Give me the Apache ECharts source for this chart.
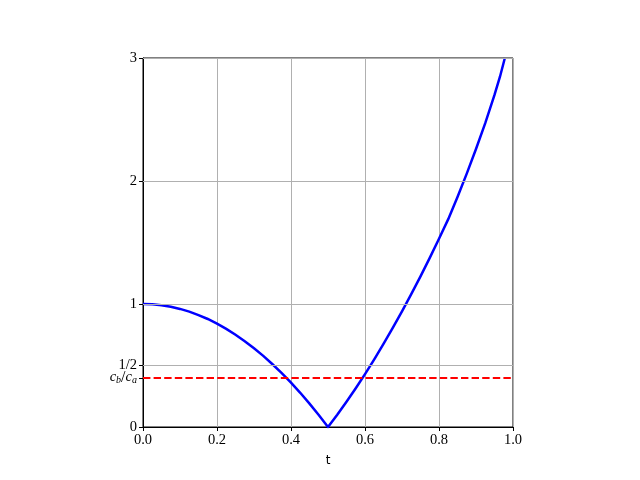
<!DOCTYPE html>
<html>
<head>
<meta charset="utf-8">
<script src="https://cdn.jsdelivr.net/npm/echarts@6/dist/echarts.min.js"></script>
<style>
  html, body { margin: 0; padding: 0; background: #fff; }
  #main { width: 640px; height: 480px; }
</style>
</head>
<body>
<div id="main"></div>
<script>
// t values and the curve
var tValues = [0, 0.025, 0.05, 0.075, 0.1, 0.125, 0.15, 0.175, 0.2, 0.225, 0.25,
               0.275, 0.3, 0.325, 0.35, 0.375, 0.4, 0.425, 0.45, 0.475, 0.5,
               0.525, 0.55, 0.575, 0.6, 0.625, 0.65, 0.675, 0.7, 0.725, 0.75,
               0.775, 0.8, 0.825, 0.85, 0.875, 0.9, 0.925, 0.95, 0.965, 0.978];
var curveValues = [1, 0.997, 0.99, 0.978, 0.96, 0.938, 0.91, 0.878, 0.84, 0.798, 0.75,
                   0.698, 0.64, 0.578, 0.51, 0.438, 0.36, 0.278, 0.19, 0.098, 0,
                   0.1, 0.205, 0.315, 0.43, 0.55, 0.675, 0.805, 0.94, 1.08, 1.225,
                   1.375, 1.53, 1.69, 1.87, 2.06, 2.26, 2.47, 2.70, 2.85, 3.0];
// ratio c_b/c_a (red dashed line)
var ratioValue = 0.4;
// y ticks
var yTickValues = [0, 0.4, 0.5, 1, 2, 3];
var yGridValues = [0.5, 1, 2, 3];

var serif = 'Liberation Serif';

var chart = echarts.init(document.getElementById('main'));

var curveData = tValues.map(function (t, i) { return [t, curveValues[i]]; });

var option = {
    animation: false,
    grid: {
        left: 143, right: 127, top: 58, bottom: 53,
        show: true, borderColor: '#000', borderWidth: 1, backgroundColor: 'transparent'
    },
    xAxis: {
        type: 'value', min: 0, max: 1, interval: 0.2,
        name: 't', nameLocation: 'middle', nameGap: 28,
        nameTextStyle: { fontFamily: 'DejaVu Sans', fontSize: 12, color: '#000' },
        axisLine: { show: true, onZero: false, lineStyle: { color: '#000', width: 1 } },
        axisTick: { show: true, inside: false, length: 4, lineStyle: { color: '#000' } },
        axisLabel: {
            fontFamily: serif, fontSize: 14.5, color: '#000', margin: 6,
            formatter: function (v) { return v.toFixed(1); }
        },
        splitLine: { show: true, lineStyle: { color: '#b0b0b0', width: 1 } }
    },
    yAxis: {
        type: 'value', min: 0, max: 3, interval: 0.5,
        axisLine: { show: true, onZero: false, lineStyle: { color: '#000', width: 1 } },
        axisTick: { show: true, length: 4, customValues: yTickValues, lineStyle: { color: '#000' } },
        axisLabel: {
            customValues: yTickValues,
            fontFamily: serif, fontSize: 14.5, color: '#000', margin: 6,
            formatter: function (v) {
                if (Math.abs(v - ratioValue) < 1e-6) return '{i|c}{s|b}{n|/}{i|c}{s|a}';
                if (v === 0.5) return '1/2';
                return String(v);
            },
            rich: {
                i: { fontFamily: serif, fontStyle: 'italic', fontSize: 14.5, color: '#000', verticalAlign: 'top' },
                s: { fontFamily: serif, fontStyle: 'italic', fontSize: 10, color: '#000', verticalAlign: 'bottom', padding: [6, 0, 0, 0] },
                n: { fontFamily: serif, fontSize: 16, color: '#000' }
            }
        },
        splitLine: { show: false }
    },
    series: [
        {
            name: 'grid',
            type: 'line',
            data: [],
            silent: true,
            z: 1,
            markLine: {
                silent: true, symbol: 'none', animation: false,
                label: { show: false },
                lineStyle: { color: '#b0b0b0', width: 1, type: 'solid' },
                data: yGridValues.map(function (v) { return { yAxis: v }; })
            }
        },
        {
            name: 'ratio',
            type: 'line',
            data: [],
            z: 3,
            markLine: {
                silent: true, symbol: 'none', animation: false,
                label: { show: false },
                lineStyle: { color: '#ff0000', width: 2, type: [7.4, 3.2] },
                data: [{ yAxis: ratioValue }]
            }
        },
        {
            name: 'f',
            type: 'line',
            data: curveData,
            showSymbol: false,
            z: 4,
            lineStyle: { color: '#0000ff', width: 2.5, join: 'miter' }
        }
    ]
};

chart.setOption(option);
</script>
</body>
</html>
